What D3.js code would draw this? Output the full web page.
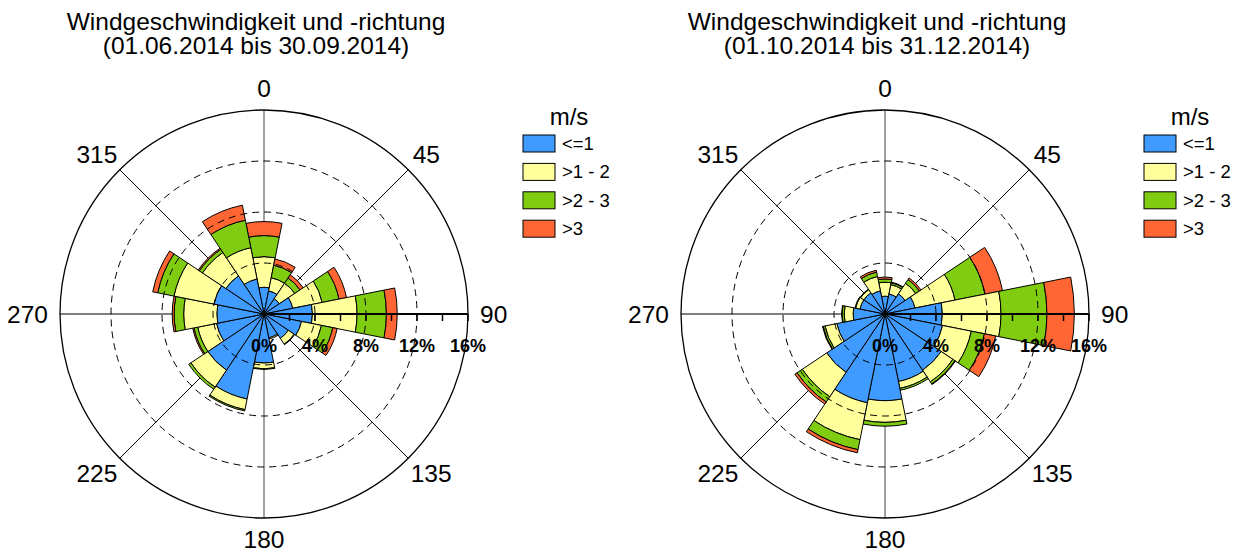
<!DOCTYPE html>
<html>
<head>
<meta charset="utf-8">
<script src="https://cdn.jsdelivr.net/npm/d3@7/dist/d3.min.js"></script>
<style>
body { margin: 0; background: #fff; }
text { font-family: "Liberation Sans", Arial, sans-serif; fill: #000; }
</style>
</head>
<body>
<script>
// wind direction sectors (deg, clockwise from north)
var directions = [0, 22.5, 45, 67.5, 90, 112.5, 135, 157.5, 180, 202.5, 225, 247.5, 270, 292.5, 315, 337.5];
var speedClasses = ["<=1", ">1 - 2", ">2 - 3", ">3"];

// frequency in % per sector and speed class, 01.06.2014 - 30.09.2014
var summerLe1  = [2.1, 1.85, 1.45, 2.3, 3.8, 3.0, 2.3, 1.9, 3.85, 6.8, 5.3, 3.8, 3.7, 4.0, 3.6, 2.8];
var summer1to2 = [2.4, 1.05, 1.45, 2.35, 3.5, 1.6, 0.55, 0.1, 0.45, 0.85, 1.6, 1.5, 2.6, 3.2, 2.2, 2.5];
var summer2to3 = [1.65, 1.0, 0.5, 1.35, 2.3, 0.9, 0.05, 0.0, 0.05, 0.1, 0.2, 0.3, 0.75, 1.3, 0.3, 2.2];
var summerGt3  = [1.1, 0.5, 0.3, 0.6, 0.85, 0.35, 0.0, 0.0, 0.0, 0.0, 0.0, 0.1, 0.15, 0.4, 0.1, 1.2];

// 01.10.2014 - 31.12.2014
var autumnLe1  = [1.4, 1.6, 1.9, 2.4, 4.5, 4.6, 5.3, 5.4, 6.8, 7.1, 5.5, 3.85, 2.5, 2.0, 2.0, 1.85];
var autumn1to2 = [1.1, 0.75, 1.0, 3.2, 4.6, 2.3, 1.1, 0.55, 1.7, 2.95, 2.3, 0.95, 0.7, 0.35, 0.3, 1.15];
var autumn2to3 = [0.25, 0.15, 0.35, 2.4, 3.6, 1.05, 0.2, 0.15, 0.3, 0.8, 0.5, 0.15, 0.17, 0.05, 0.05, 0.35];
var autumnGt3  = [0.15, 0.05, 0.15, 1.4, 2.15, 0.9, 0.05, 0.0, 0.0, 0.25, 0.2, 0.05, 0.03, 0.0, 0.0, 0.15];

var compassLabels = [0, 45, 90, 135, 180, 225, 270, 315];
var pctLabels = [0, 4, 8, 12, 16];
var pctMinor = [2, 4, 6, 8, 10, 12, 14, 16];
var dashedRings = [4, 8, 12];
var titleLine1 = "Windgeschwindigkeit und -richtung";
var periods = ["(01.06.2014 bis 30.09.2014)", "(01.10.2014 bis 31.12.2014)"];

var colors = ["#3f9bff", "#ffff9c", "#80cc10", "#ff6633"];

var width = 1244, height = 554,
    R = 204, cy = 314;

var svg = d3.select("body").append("svg")
    .attr("width", width)
    .attr("height", height);

var r = d3.scaleLinear().domain([0, 16]).range([0, R]);

function rad(d) { return d * Math.PI / 180; }

drawRose(264, [summerLe1, summer1to2, summer2to3, summerGt3], periods[0]);
drawRose(885, [autumnLe1, autumn1to2, autumn2to3, autumnGt3], periods[1]);

function drawRose(cx, series, period) {
    var g = svg.append("g")
        .attr("transform", "translate(" + cx + "," + cy + ")");

    // title
    var t = svg.append("text")
        .attr("x", cx - 8)
        .attr("text-anchor", "middle")
        .style("font-size", "24.5px");
    t.append("tspan").attr("x", cx - 8).attr("y", 30).text(titleLine1);
    t.append("tspan").attr("x", cx - 8).attr("y", 53.5).text(period);

    // spokes (under the bars)
    g.selectAll("line.spoke")
        .data(compassLabels)
        .enter().append("line")
        .attr("class", "spoke")
        .attr("x1", 0).attr("y1", 0)
        .attr("x2", function(d) { return R * Math.sin(rad(d)); })
        .attr("y2", function(d) { return -R * Math.cos(rad(d)); })
        .attr("stroke", function(d) { return d % 180 == 0 ? "#444" : "#000"; })
        .attr("stroke-width", 1);

    g.append("circle")
        .attr("r", R)
        .attr("fill", "none")
        .attr("stroke", "#000")
        .attr("stroke-width", 1.3);

    // stacked sectors
    var arc = d3.arc();
    var segs = [];
    for (var i = 0; i < directions.length; i++) {
        var cum = 0;
        for (var k = 0; k < series.length; k++) {
            var v = series[k][i];
            if (v > 0) segs.push({dir: directions[i], k: k, lo: cum, hi: cum + v});
            cum += v;
        }
    }
    g.selectAll("path.bar")
        .data(segs)
        .enter().append("path")
        .attr("class", "bar")
        .attr("d", function(d) {
            return arc({
                innerRadius: r(d.lo),
                outerRadius: r(d.hi),
                startAngle: rad(d.dir - 11.25),
                endAngle: rad(d.dir + 11.25)
            });
        })
        .attr("fill", function(d) { return colors[d.k]; })
        .attr("stroke", "#000")
        .attr("stroke-width", 1)
        .attr("stroke-linejoin", "round");

    // dashed grid rings on top
    g.selectAll("circle.ring")
        .data(dashedRings)
        .enter().append("circle")
        .attr("class", "ring")
        .attr("r", function(d) { return r(d); })
        .attr("fill", "none")
        .attr("stroke", "#000")
        .attr("stroke-width", 1)
        .attr("stroke-dasharray", "7,5");

    // radial axis along 90 deg
    g.append("line")
        .attr("x1", 0).attr("y1", 0)
        .attr("x2", R).attr("y2", 0)
        .attr("stroke", "#000")
        .attr("stroke-width", 2);
    g.selectAll("line.tick")
        .data(pctMinor)
        .enter().append("line")
        .attr("class", "tick")
        .attr("x1", function(d) { return r(d); })
        .attr("x2", function(d) { return r(d); })
        .attr("y1", 0).attr("y2", 7)
        .attr("stroke", "#000")
        .attr("stroke-width", 1.5);
    g.selectAll("text.pct")
        .data(pctLabels)
        .enter().append("text")
        .attr("class", "pct")
        .attr("x", function(d) { return r(d); })
        .attr("y", 38)
        .attr("text-anchor", "middle")
        .style("font-size", "18px")
        .style("font-weight", "bold")
        .text(function(d) { return d + "%"; });

    // compass labels
    var fs = 24.5;
    g.selectAll("text.dir")
        .data(compassLabels)
        .enter().append("text")
        .attr("class", "dir")
        .attr("text-anchor", "middle")
        .style("font-size", fs + "px")
        .text(function(d) { return d; })
        .each(function(d) {
            var hw = this.getComputedTextLength() / 2, hh = 9.5;
            var s = Math.sin(rad(d)), c = Math.cos(rad(d));
            var x = (R + 12) * s + hw * s;
            var y = -(R + 12) * c - hh * c;
            d3.select(this).attr("x", x).attr("y", y + 0.36 * fs);
        });

    // legend
    var lx = cx + 259;
    svg.append("text")
        .attr("x", lx + 46)
        .attr("y", 125)
        .attr("text-anchor", "middle")
        .style("font-size", "24px")
        .text("m/s");
    var lg = svg.selectAll(null)
        .data(speedClasses)
        .enter().append("g")
        .attr("transform", function(d, i) { return "translate(" + lx + "," + (135 + i * 28.4) + ")"; });
    lg.append("rect")
        .attr("width", 32)
        .attr("height", 17)
        .attr("fill", function(d, i) { return colors[i]; })
        .attr("stroke", "#000")
        .attr("stroke-width", 1);
    lg.append("text")
        .attr("x", 39)
        .attr("y", 15)
        .style("font-size", "18.5px")
        .text(function(d) { return d; });
}
</script>
</body>
</html>
